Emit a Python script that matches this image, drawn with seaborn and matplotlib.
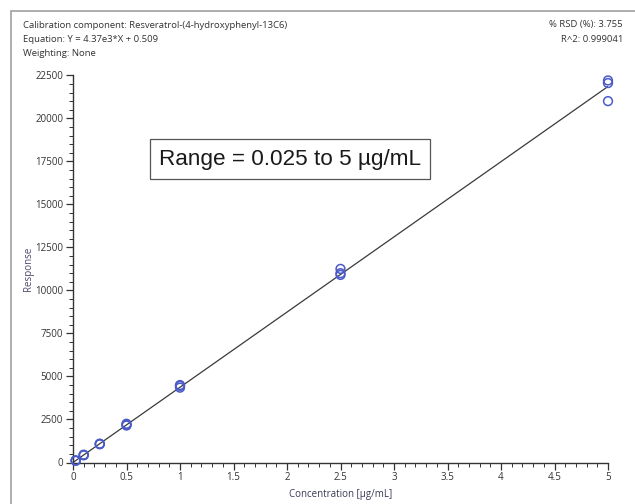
import matplotlib
matplotlib.use("Agg")
import matplotlib.pyplot as plt
import seaborn as sns
import numpy as np
import pandas as pd
from matplotlib.patches import Rectangle
from matplotlib.ticker import MultipleLocator

# ---- data ----
concentration = [0.025, 0.025, 0.025, 0.1, 0.1, 0.1, 0.25, 0.25, 0.25,
                 0.5, 0.5, 0.5, 1, 1, 1, 2.5, 2.5, 2.5, 5, 5, 5]
response = [100, 110, 120, 420, 440, 450, 1060, 1080, 1090,
            2150, 2200, 2250, 4350, 4450, 4500, 10900, 11000, 11250,
            21000, 22050, 22200]
slope = 4.37e3
intercept = 0.509
line_x = [0, 5]
x_ticks = [0, 0.5, 1, 1.5, 2, 2.5, 3, 3.5, 4, 4.5, 5]
x_tick_labels = ["0", "0.5", "1", "1.5", "2", "2.5", "3", "3.5", "4", "4.5", "5"]
y_ticks = [0, 2500, 5000, 7500, 10000, 12500, 15000, 17500, 20000, 22500]

header_left = ["Calibration component: Resveratrol-(4-hydroxyphenyl-13C6)",
               "Equation: Y = 4.37e3*X + 0.509",
               "Weighting: None"]
header_right = ["% RSD (%): 3.755", "R^2: 0.999041"]
range_text = "Range = 0.025 to 5 \u00b5g/mL"

df = pd.DataFrame({"x": concentration, "y": response})
line_df = pd.DataFrame({"x": line_x, "y": [slope * v + intercept for v in line_x]})

sns.set_theme(style="white")
plt.rcParams["font.family"] = ["Open Sans", "DejaVu Sans"]

W, H = 635, 504
fig = plt.figure(figsize=(W / 100, H / 100), dpi=100)
ax = fig.add_axes([73 / W, 1 - 462.5 / H, (608 - 73) / W, (462.5 - 75.3) / H])

# outer frame
fig.patches.append(Rectangle((11 / W, -0.1), 1.2, 1 - 11 / H + 0.1,
                             transform=fig.transFigure, fill=False,
                             edgecolor="#a0a0a0", linewidth=1.2))

sns.lineplot(data=line_df, x="x", y="y", ax=ax, color="#3a3a3a", linewidth=0.9)
sns.scatterplot(data=df, x="x", y="y", ax=ax, marker="o", s=40,
                facecolors="none", edgecolor="#4a5ac8", linewidth=1.1,
                clip_on=False, zorder=3)

ax.set_xlim(0, 5)
ax.set_ylim(0, 22500)
ax.set_xticks(x_ticks)
ax.set_xticklabels(x_tick_labels)
ax.set_yticks(y_ticks)
ax.xaxis.set_minor_locator(MultipleLocator(0.1))
ax.yaxis.set_minor_locator(MultipleLocator(500))
for s in ["top", "right"]:
    ax.spines[s].set_visible(False)
for s in ["left", "bottom"]:
    ax.spines[s].set_color("#333333")
    ax.spines[s].set_linewidth(1.0)
ax.tick_params(which="major", direction="out", length=5, width=0.9,
               color="#333333", labelsize=7, labelcolor="#333333",
               bottom=True, left=True, pad=2)
ax.tick_params(which="minor", direction="out", length=3, width=0.7,
               color="#333333", bottom=True, left=True)
ax.set_xlabel("Concentration [\u00b5g/mL]", fontsize=7, color="#3a3a55", labelpad=4)
ax.set_ylabel("Response", fontsize=7, color="#4a4a70", labelpad=1)
ax.grid(False)

# header texts
for i, t in enumerate(header_left):
    fig.text(23 / W, 1 - (25 + 14.2 * i) / H, t, fontsize=6.8, color="#333333",
             ha="left", va="center")
for i, t in enumerate(header_right):
    fig.text(623 / W, 1 - (25 + 14.2 * i) / H, t, fontsize=6.8, color="#333333",
             ha="right", va="center")

# range box
fig.text(290 / W, 1 - 159 / H, range_text, fontsize=16.2, color="#1a1a1a",
         family=["Liberation Sans", "DejaVu Sans"], ha="center", va="center",
         bbox=dict(boxstyle="square,pad=0.42", facecolor="white",
                   edgecolor="#555555", linewidth=0.9))

fig.savefig("out.png", dpi=100)
